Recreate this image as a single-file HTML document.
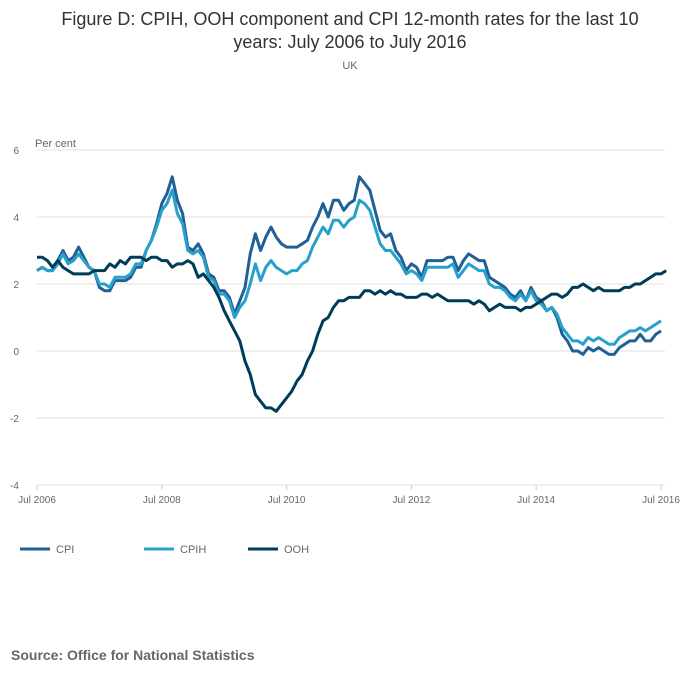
<!DOCTYPE html>
<html><head><meta charset="utf-8"><style>
body{margin:0;background:#fff;font-family:"Liberation Sans",sans-serif;}
svg text{font-family:"Liberation Sans",sans-serif;}
</style></head><body>
<svg width="700" height="682">
<text x="350" y="25" text-anchor="middle" font-size="18" fill="#333">Figure D: CPIH, OOH component and CPI 12-month rates for the last 10</text>
<text x="350" y="48" text-anchor="middle" font-size="18" fill="#333">years: July 2006 to July 2016</text>
<text x="350" y="69" text-anchor="middle" font-size="11" fill="#666">UK</text>
<text x="35" y="147" font-size="11" fill="#666">Per cent</text>
<g id="grid"></g><g id="series"></g>
<g>
<line x1="20" y1="549" x2="50" y2="549" stroke="#206095" stroke-width="3"/><text x="56" y="553" font-size="11" fill="#666">CPI</text>
<line x1="144" y1="549" x2="174" y2="549" stroke="#27a0cc" stroke-width="3"/><text x="180" y="553" font-size="11" fill="#666">CPIH</text>
<line x1="248" y1="549" x2="278" y2="549" stroke="#003c57" stroke-width="3"/><text x="284" y="553" font-size="11" fill="#666">OOH</text>
</g>
<text x="11" y="660" font-size="14" font-weight="bold" fill="#666">Source: Office for National Statistics</text>
</svg>
<script>
const yTicks=[6,4,2,0,-2,-4];
const xTickLabels=["Jul 2006","Jul 2008","Jul 2010","Jul 2012","Jul 2014","Jul 2016"];
const cpi=[2.4,2.5,2.4,2.4,2.7,3.0,2.7,2.8,3.1,2.8,2.5,2.4,1.9,1.8,1.8,2.1,2.1,2.1,2.2,2.5,2.5,3.0,3.3,3.8,4.4,4.7,5.2,4.5,4.1,3.1,3.0,3.2,2.9,2.3,2.2,1.8,1.8,1.6,1.1,1.5,1.9,2.9,3.5,3.0,3.4,3.7,3.4,3.2,3.1,3.1,3.1,3.2,3.3,3.7,4.0,4.4,4.0,4.5,4.5,4.2,4.4,4.5,5.2,5.0,4.8,4.2,3.6,3.4,3.5,3.0,2.8,2.4,2.6,2.5,2.2,2.7,2.7,2.7,2.7,2.8,2.8,2.4,2.7,2.9,2.8,2.7,2.7,2.2,2.1,2.0,1.9,1.7,1.6,1.8,1.5,1.9,1.6,1.5,1.2,1.3,1.0,0.5,0.3,0.0,0.0,-0.1,0.1,0.0,0.1,0.0,-0.1,-0.1,0.1,0.2,0.3,0.3,0.5,0.3,0.3,0.5,0.6];
const cpih=[2.4,2.5,2.4,2.4,2.6,2.9,2.6,2.7,2.9,2.7,2.5,2.4,2.0,2.0,1.9,2.2,2.2,2.2,2.3,2.6,2.6,3.0,3.3,3.7,4.2,4.4,4.8,4.1,3.8,3.0,2.9,3.0,2.8,2.2,2.1,1.7,1.7,1.5,1.0,1.3,1.5,2.0,2.6,2.1,2.5,2.7,2.5,2.4,2.3,2.4,2.4,2.6,2.7,3.1,3.4,3.7,3.5,3.9,3.9,3.7,3.9,4.0,4.5,4.4,4.2,3.7,3.2,3.0,3.0,2.8,2.6,2.3,2.4,2.3,2.1,2.5,2.5,2.5,2.5,2.5,2.6,2.2,2.4,2.6,2.5,2.4,2.4,2.0,1.9,1.9,1.8,1.6,1.5,1.7,1.5,1.8,1.5,1.4,1.2,1.3,1.1,0.7,0.5,0.3,0.3,0.2,0.4,0.3,0.4,0.3,0.2,0.2,0.4,0.5,0.6,0.6,0.7,0.6,0.7,0.8,0.9];
const ooh=[2.8,2.8,2.7,2.5,2.7,2.5,2.4,2.3,2.3,2.3,2.3,2.4,2.4,2.4,2.6,2.5,2.7,2.6,2.8,2.8,2.8,2.7,2.8,2.8,2.7,2.7,2.5,2.6,2.6,2.7,2.6,2.2,2.3,2.1,1.9,1.6,1.2,0.9,0.6,0.3,-0.3,-0.7,-1.3,-1.5,-1.7,-1.7,-1.8,-1.6,-1.4,-1.2,-0.9,-0.7,-0.3,0.0,0.5,0.9,1.0,1.3,1.5,1.5,1.6,1.6,1.6,1.8,1.8,1.7,1.8,1.7,1.8,1.7,1.7,1.6,1.6,1.6,1.7,1.7,1.6,1.7,1.6,1.5,1.5,1.5,1.5,1.5,1.4,1.5,1.4,1.2,1.3,1.4,1.3,1.3,1.3,1.2,1.3,1.3,1.4,1.5,1.6,1.7,1.7,1.6,1.7,1.9,1.9,2.0,1.9,1.8,1.9,1.8,1.8,1.8,1.8,1.9,1.9,2.0,2.0,2.1,2.2,2.3,2.3,2.4];
const NS="http://www.w3.org/2000/svg";
const X0=37,X1=661;
function xs(i){return X0+(X1-X0)*i/120;}
function ys(v){return 351-33.5*v;}
const grid=document.getElementById('grid');
yTicks.forEach(t=>{
 const l=document.createElementNS(NS,'line');
 l.setAttribute('x1',X0);l.setAttribute('x2',665);l.setAttribute('y1',ys(t));l.setAttribute('y2',ys(t));
 l.setAttribute('stroke','#e0e0e0');
 
 
 grid.appendChild(l);
 const tx=document.createElementNS(NS,'text');
 tx.setAttribute('x',19);tx.setAttribute('y',ys(t)+4);tx.setAttribute('text-anchor','end');tx.setAttribute('font-size','10');tx.setAttribute('fill','#666');
 tx.textContent=t;
 
 
 grid.appendChild(tx);
});
xTickLabels.forEach((s,k)=>{
 const x=xs(k*24);
 const l=document.createElementNS(NS,'line');
 l.setAttribute('x1',x);l.setAttribute('x2',x);l.setAttribute('y1',485);l.setAttribute('y2',490);l.setAttribute('stroke','#ccc');
 
 
 grid.appendChild(l);
 const tx=document.createElementNS(NS,'text');
 tx.setAttribute('x',x);tx.setAttribute('y',503);tx.setAttribute('text-anchor','middle');tx.setAttribute('font-size','10');tx.setAttribute('fill','#666');
 tx.textContent=s;
 
 
 grid.appendChild(tx);
});
const sg=document.getElementById('series');
[[cpi,'#206095','cpi-line'],[cpih,'#27a0cc','cpih-line'],[ooh,'#003c57','ooh-line']].forEach(([d,c,n])=>{
 const p=document.createElementNS(NS,'polyline');
 p.setAttribute('points',d.map((v,i)=>xs(i).toFixed(1)+','+ys(v).toFixed(1)).join(' '));
 p.setAttribute('fill','none');p.setAttribute('stroke',c);p.setAttribute('stroke-width','3');p.setAttribute('stroke-linejoin','round');
 
 
 sg.appendChild(p);
});
</script>
</body></html>
